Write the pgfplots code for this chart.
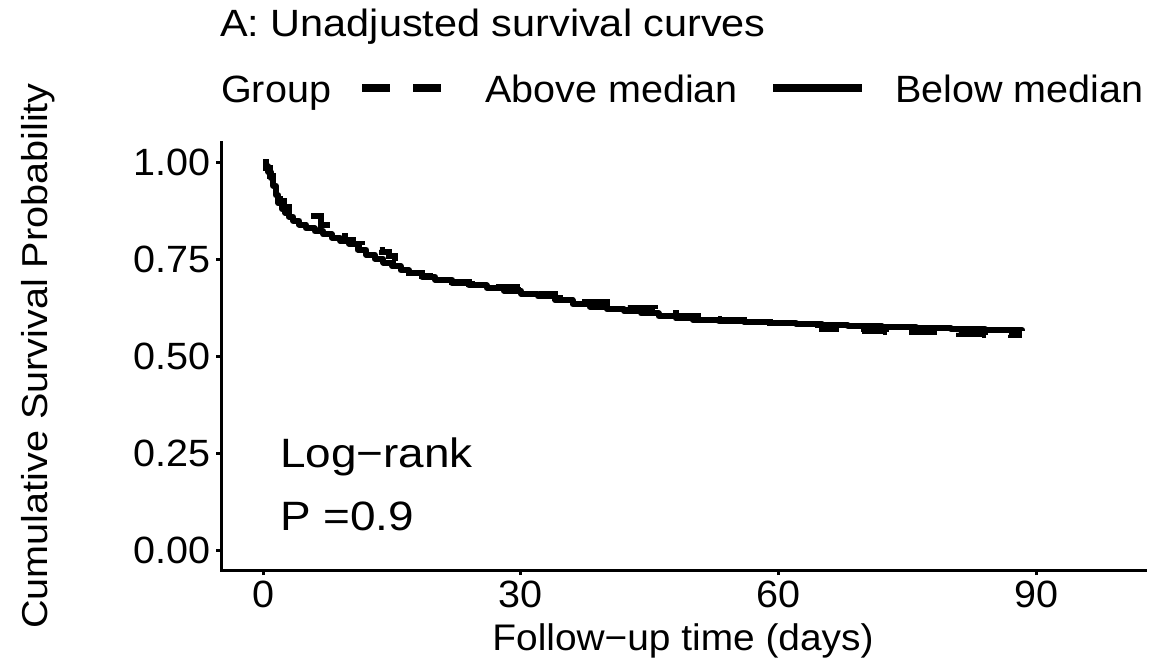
\documentclass[border=0pt]{standalone}
\usepackage{fontspec}
\setmainfont{Liberation Sans}
\newfontfamily\fT{Liberation Sans}[FakeStretch=1.09]
\newfontfamily\fA{Liberation Sans}[FakeStretch=1.12]
\newfontfamily\fL{Liberation Sans}[FakeStretch=1.04]
\newfontfamily\fX{Liberation Sans}[FakeStretch=1.05]
\newfontfamily\fY{Liberation Sans}[FakeStretch=1.10]
\usepackage{pgfplots}
\pgfplotsset{compat=1.18}
\pgfplotstableread{
t s
0 1.0
0.3 0.99
0.6 0.975
0.9 0.96
1.2 0.94
1.5 0.915
1.8 0.895
2.2 0.88
2.6 0.87
3.0 0.86
3.5 0.85
4.2 0.84
5.0 0.83
6.0 0.823
7.0 0.815
8.0 0.806
9.0 0.798
10.0 0.79
11.0 0.775
12.0 0.762
13.0 0.752
14.0 0.742
15.0 0.733
16.0 0.722
17.0 0.714
18.5 0.706
20.0 0.698
22 0.69
24 0.683
26 0.677
28 0.67
30 0.662
32 0.655
34 0.645
36 0.635
38 0.628
40 0.622
42 0.617
44 0.611
46 0.604
48 0.598
50 0.594
53 0.591
56 0.589
59 0.587
62 0.584
65 0.58
68 0.578
72 0.576
76 0.573
80 0.571
84 0.568
88.3 0.566
}\below
\pgfplotstableread{
t s
0 1.0
0.4 0.985
0.8 0.965
1.2 0.945
1.6 0.92
2.0 0.9
2.5 0.885
3.0 0.87
3.6 0.862
6.8 0.84
7.5 0.83
8.5 0.81
9.5 0.8
10.5 0.79
11.5 0.78
12.5 0.775
13.8 0.77
14.6 0.76
15.4 0.745
15.8 0.725
17 0.715
18.5 0.708
20 0.7
22 0.692
24 0.686
26 0.682
27 0.68
29.5 0.672
32 0.66
34 0.65
37 0.64
40 0.628
42.5 0.625
45.6 0.612
48 0.605
50.6 0.596
53 0.593
56 0.59
59 0.587
62 0.582
65 0.572
67 0.57
70 0.566
72.5 0.563
75.6 0.562
78.4 0.56
81 0.558
84 0.556
87 0.555
88.3 0.555
}\above
\begin{document}
\begin{tikzpicture}[x=1pt,y=1pt]
\useasboundingbox (0,0) rectangle (1150,662);
\begin{axis}[
  at={(221pt,92pt)}, anchor=south west,
  scale only axis, width=924pt, height=427pt,
  xmin=-4.885, xmax=102.585, ymin=-0.05, ymax=1.05,
  axis lines=left,
  axis line style={-, line width=3pt, line cap=rect},
  xtick={0,30,60,90}, xticklabels={0,30,60,90},
  ytick={0,0.25,0.5,0.75,1}, yticklabels={0.00,0.25,0.50,0.75,1.00},
  tick align=outside, major tick length=5pt,
  tick style={line width=3pt, black},
  ticklabel style={font=\fL\fontsize{38}{38}\selectfont, inner sep=0pt},
  yticklabel style={xshift=-5pt},
  xticklabel style={yshift=-6pt},
  clip=false,
]
\addplot[const plot, line width=6pt, black, line join=round] table[x=t,y=s] {\below};
\addplot[const plot, line width=6pt, black, dash pattern=on 28pt off 23pt] table[x=t,y=s] {\above};
\end{axis}
% title
\node[anchor=base west, inner sep=0pt, font=\fT\fontsize{38}{38}\selectfont] at (220,625) {A: Unadjusted survival curves};
% legend
\node[anchor=base west, inner sep=0pt, font=\fL\fontsize{38}{38}\selectfont] at (221,559) {Group};
\draw[line width=8pt, dash pattern=on 28pt off 23pt] (362,574) -- (441,574);
\node[anchor=base west, inner sep=0pt, font=\fL\fontsize{38}{38}\selectfont] at (485,559) {Above median};
\draw[line width=8pt] (773,574) -- (862,574);
\node[anchor=base west, inner sep=0pt, font=\fL\fontsize{38}{38}\selectfont] at (895,559) {Below median};
% axis labels
\node[anchor=base, inner sep=0pt, font=\fX\fontsize{37}{37}\selectfont] at (683,12) {Follow−up time (days)};
\node[anchor=base, rotate=90, inner sep=0pt, font=\fY\fontsize{36}{36}\selectfont] at (47,306) {Cumulative Survival Probability};
% annotation
\node[anchor=base west, inner sep=0pt, font=\fA\fontsize{41}{41}\selectfont] at (280,195) {Log−rank};
\node[anchor=base west, inner sep=0pt, font=\fA\fontsize{41}{41}\selectfont] at (280,132) {P =0.9};
\end{tikzpicture}
\end{document}
